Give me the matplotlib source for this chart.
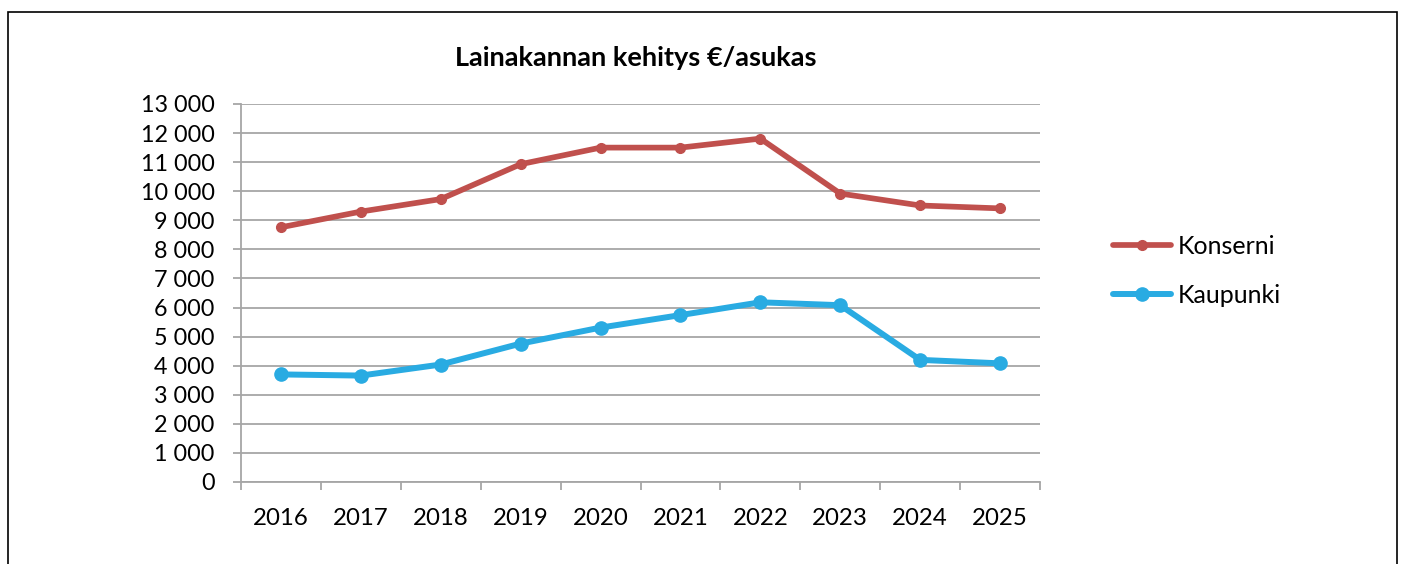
import matplotlib
matplotlib.use("Agg")
import matplotlib.pyplot as plt
from matplotlib.patches import Rectangle
from matplotlib.ticker import FuncFormatter, FixedLocator

years = ["2016", "2017", "2018", "2019", "2020", "2021", "2022", "2023", "2024", "2025"]
konserni = [8760, 9300, 9730, 10930, 11500, 11500, 11810, 9920, 9510, 9410]
kaupunki = [3700, 3660, 4040, 4760, 5310, 5740, 6180, 6080, 4200, 4080]
title = "Lainakannan kehitys €/asukas"

plt.rcParams['font.family'] = ['Lato', 'DejaVu Sans']

W, H = 1405, 564
fig = plt.figure(figsize=(W / 100, H / 100), dpi=100)
ax = fig.add_axes([241 / W, 1 - 482 / H, (1040 - 241) / W, (482 - 104) / H])

x = list(range(len(years)))
ax.plot(x, konserni, color="#C0504D", lw=4.1, marker="o", ms=7, label="Konserni",
        solid_capstyle="round", zorder=3)
ax.plot(x, kaupunki, color="#29ABE2", lw=4.3, marker="o", ms=9.5, label="Kaupunki",
        solid_capstyle="round", zorder=3)

ax.set_xlim(-0.5, len(years) - 0.5)
ax.set_ylim(0, 13000)
ax.set_yticks(range(0, 13001, 1000))
ax.yaxis.set_major_formatter(FuncFormatter(lambda v, p: f"{int(v):,}".replace(",", " ")))
ax.set_xticks(x)
ax.set_xticklabels(years)
ax.xaxis.set_minor_locator(FixedLocator([i - 0.5 for i in range(len(years) + 1)]))
ax.tick_params(axis="x", which="major", length=0, pad=19, labelsize=17.3, colors="black")
ax.tick_params(axis="x", which="minor", length=6, width=1.3, color="#A6A6A6", direction="out")
ax.tick_params(axis="y", length=6, width=1.3, color="#A6A6A6", labelsize=16.8, pad=13)
for lab in ax.get_yticklabels():
    lab.set_color("black")

ax.grid(axis="y", color="#A6A6A6", lw=1.3)
ax.set_axisbelow(True)
for s in ["top", "right"]:
    ax.spines[s].set_visible(False)
for s in ["left", "bottom"]:
    ax.spines[s].set_color("#A6A6A6")
    ax.spines[s].set_linewidth(1.3)

fig.text(636 / W, 1 - 58 / H, title, ha="center", va="center", fontsize=19.5, fontweight="bold")

leg = fig.legend(loc="center left", bbox_to_anchor=(1103 / W, 1 - 271 / H), frameon=False,
                 fontsize=18, handlelength=2.3, handletextpad=0.28, labelspacing=1.05,
                 borderaxespad=0)

fig.patches.append(Rectangle((8 / W, -0.05), (1397 - 8) / W, 1.05 - 12 / H,
                             transform=fig.transFigure, fill=False, ec="black", lw=1.2))

fig.savefig("out.png", dpi=100)
